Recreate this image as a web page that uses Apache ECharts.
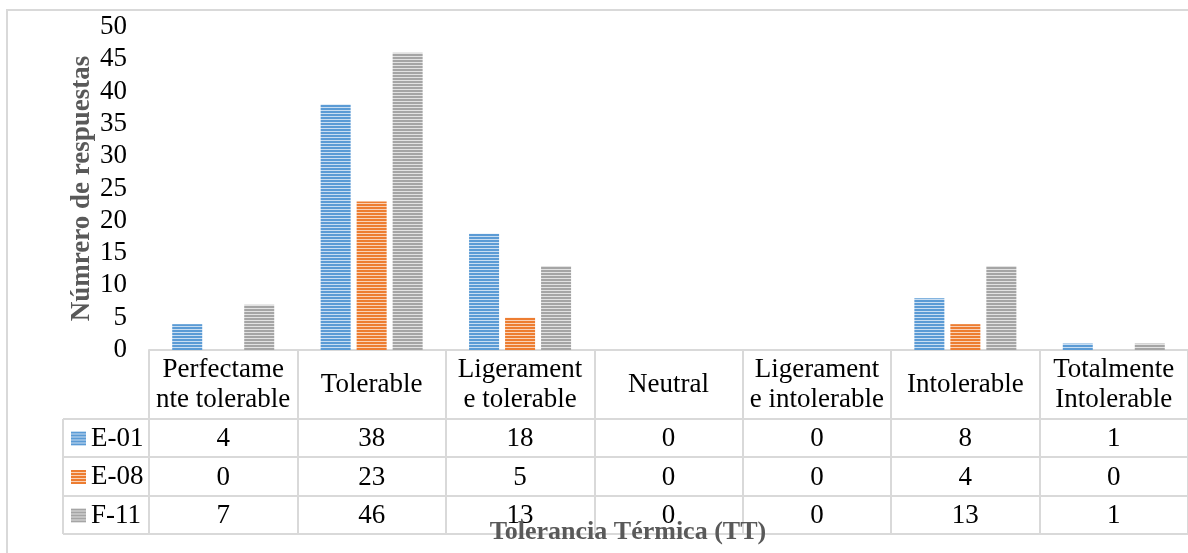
<!DOCTYPE html>
<html>
<head>
<meta charset="utf-8">
<script src="https://cdn.jsdelivr.net/npm/echarts@6/dist/echarts.min.js"></script>
<style>
html,body{margin:0;padding:0;background:#fff;}
#chart{width:1188px;height:553px;}
</style>
</head>
<body>
<div id="chart"></div>
<script>
// ---- data ----
const categories = ['Perfectame\nnte tolerable', 'Tolerable', 'Ligerament\ne tolerable', 'Neutral', 'Ligerament\ne intolerable', 'Intolerable', 'Totalmente\nIntolerable'];
const seriesNames = ['E-01', 'E-08', 'F-11'];
const e01 = [4, 38, 18, 0, 0, 8, 1];
const e08 = [0, 23, 5, 0, 0, 4, 0];
const f11 = [7, 46, 13, 0, 0, 13, 1];
const yMin = 0, yMax = 50, yInterval = 5;
const yTitle = 'Númrero de respuestas';
const xTitle = 'Tolerancia Térmica (TT)';

// ---- style ----
const FONT = '"Liberation Serif", "Times New Roman", serif';
const FS = 27;
const LINE = '#d9d9d9';
const gridLeft = 149, gridTop = 27, gridBottomY = 350, gridWidth = 1044;
const rowOffsets = [69, 107, 146, 184];
const legendLeft = 63;

function stripe(c1, c2) {
  const cv = document.createElement('canvas');
  cv.width = 4; cv.height = 3;
  const ctx = cv.getContext('2d');
  ctx.fillStyle = c1; ctx.fillRect(0, 0, 4, 2);
  ctx.fillStyle = c2; ctx.fillRect(0, 2, 4, 1);
  return { image: cv, repeat: 'repeat' };
}
const colors = [stripe('#5b9bd5', '#c9def2'), stripe('#ed7d31', '#f9d2b8'), stripe('#a5a5a5', '#e2e2e2')];
const seriesData = [e01, e08, f11];

const chart = echarts.init(document.getElementById('chart'), null, { renderer: 'canvas' });

const rowAxes = seriesData.map((arr, k) => ({
  type: 'category', data: categories, position: 'bottom', offset: rowOffsets[k],
  axisLine: { show: true, lineStyle: { color: LINE, width: 2 } },
  axisTick: { show: false },
  axisLabel: {
    interval: 0, margin: (rowOffsets[k + 1] - rowOffsets[k]) / 2 + 1, verticalAlign: 'middle',
    fontFamily: FONT, fontSize: FS, color: '#000',
    formatter: (v, i) => String(arr[i])
  }
}));

const lines = [];
lines.push({ type: 'line', silent: true, shape: { x1: legendLeft, y1: gridBottomY + rowOffsets[0], x2: legendLeft, y2: gridBottomY + rowOffsets[3] }, style: { stroke: LINE, lineWidth: 2 } });
rowOffsets.forEach(o => {
  lines.push({ type: 'line', silent: true, shape: { x1: legendLeft, y1: gridBottomY + o, x2: gridLeft, y2: gridBottomY + o }, style: { stroke: LINE, lineWidth: 2 } });
});

const option = {
  backgroundColor: '#fff',
  animation: false,
  grid: { left: gridLeft, top: gridTop, width: gridWidth, height: gridBottomY - gridTop },
  legend: {
    data: seriesNames, orient: 'vertical', left: 71, top: gridBottomY + rowOffsets[0] + 6,
    padding: 0, itemWidth: 15, itemHeight: 14, itemGap: 11.5, itemTextGap: 5,
    icon: 'rect', selectedMode: false,
    textStyle: { fontFamily: FONT, fontSize: FS, color: '#000', lineHeight: 27 }
  },
  xAxis: [
    {
      type: 'category', data: categories, position: 'bottom',
      axisLine: { show: true, lineStyle: { color: LINE, width: 2 } },
      axisTick: { show: true, interval: 0, length: rowOffsets[3], lineStyle: { color: LINE, width: 2 } },
      axisLabel: {
        interval: 0, margin: rowOffsets[0] / 2, verticalAlign: 'middle',
        fontFamily: FONT, fontSize: FS, lineHeight: 30, color: '#000'
      }
    },
    ...rowAxes,
    {
      type: 'category', data: categories, position: 'bottom', offset: rowOffsets[3],
      axisLine: { show: true, lineStyle: { color: LINE, width: 2 } },
      axisTick: { show: false }, axisLabel: { show: false }
    }
  ],
  yAxis: {
    type: 'value', min: yMin, max: yMax, interval: yInterval,
    name: yTitle, nameLocation: 'middle', nameGap: 53, nameRotate: 90, nameMoveOverlap: false,
    nameTextStyle: { fontFamily: FONT, fontSize: 27, fontWeight: 'bold', color: '#595959' },
    axisLine: { show: false }, axisTick: { show: false }, splitLine: { show: false },
    axisLabel: { fontFamily: FONT, fontSize: FS, color: '#000', margin: 22 }
  },
  series: seriesData.map((arr, k) => ({
    name: seriesNames[k], type: 'bar', xAxisIndex: 0, data: arr,
    barWidth: 30, barGap: '20%',
    itemStyle: { color: colors[k] },
    emphasis: { disabled: true }
  })),
  graphic: [
    { type: 'rect', silent: true, shape: { x: 7, y: 10, width: 1400, height: 800 }, style: { fill: 'none', stroke: LINE, lineWidth: 2 } },
    ...lines,
    { type: 'text', silent: true, x: Math.round((legendLeft + gridLeft + gridWidth) / 2), y: 519, z: 10,
      style: { text: xTitle, align: 'center', verticalAlign: 'top', fontFamily: FONT, fontSize: 26, fontWeight: 'bold', fill: '#595959', stroke: null, lineWidth: 0 } }
  ]
};
chart.setOption(option);
</script>
</body>
</html>
